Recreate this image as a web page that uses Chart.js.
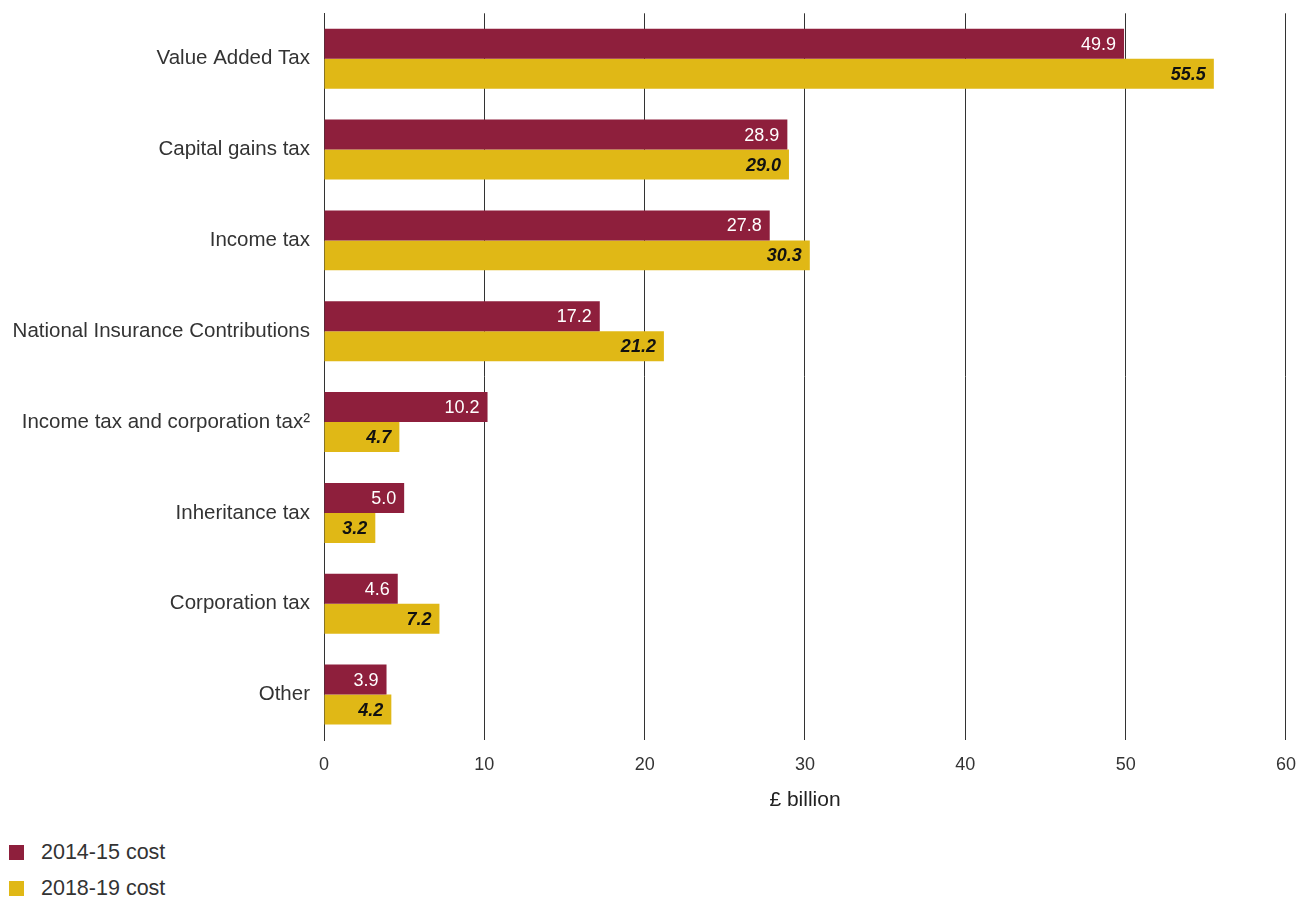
<!DOCTYPE html>
<html>
<head>
<meta charset="utf-8">
<script src="https://cdn.jsdelivr.net/npm/chart.js@4"></script>
<style>
  body { margin: 0; background: #fff; font-family: "Liberation Sans", Arial, sans-serif; color: #333; overflow: hidden; }
  #wrap { position: relative; width: 1310px; height: 822px; margin-top: -5px; }
  .legend { margin-top: 17px; }
  .legend div { display: flex; align-items: center; height: 36px; font-size: 21.5px; }
  .legend span.box { display: inline-block; width: 15px; height: 15px; margin: 0 17px 0 9px; }
</style>
</head>
<body>
<div id="wrap"><canvas id="taxChart"></canvas></div>
<div class="legend" id="legend"></div>
<script>
const categories = ['Value Added Tax', 'Capital gains tax', 'Income tax', 'National Insurance Contributions',
  'Income tax and corporation tax²', 'Inheritance tax', 'Corporation tax', 'Other'];
const cost2014 = [49.9, 28.9, 27.8, 17.2, 10.2, 5.0, 4.6, 3.9];
const cost2018 = [55.5, 29.0, 30.3, 21.2, 4.7, 3.2, 7.2, 4.2];
const seriesNames = ['2014-15 cost', '2018-19 cost'];
const colours = ['#8e1f3c', '#e0b816'];

// labels inside the end of each bar
const barLabels = {
  id: 'barLabels',
  afterDatasetsDraw(chart) {
    const ctx = chart.ctx;
    chart.data.datasets.forEach((ds, i) => {
      chart.getDatasetMeta(i).data.forEach((bar, j) => {
        ctx.save();
        ctx.textAlign = 'right';
        ctx.textBaseline = 'middle';
        if (i === 0) {
          ctx.fillStyle = '#fff';
          ctx.font = '18px "Liberation Sans", Arial, sans-serif';
        } else {
          ctx.fillStyle = '#111';
          ctx.font = 'italic bold 18px "Liberation Sans", Arial, sans-serif';
        }
        ctx.fillText(ds.data[j].toFixed(1), bar.x - 8, bar.y + 1);
        ctx.restore();
      });
    });
  }
};

new Chart(document.getElementById('taxChart'), {
  type: 'bar',
  data: {
    labels: categories,
    datasets: [
      { label: seriesNames[0], data: cost2014, backgroundColor: colours[0] },
      { label: seriesNames[1], data: cost2018, backgroundColor: colours[1] }
    ]
  },
  options: {
    indexAxis: 'y',
    responsive: true,
    maintainAspectRatio: false,
    animation: false,
    categoryPercentage: 0.66,
    barPercentage: 1,
    layout: { padding: { top: 0, right: 14, left: 0, bottom: 0 } },
    plugins: { legend: { display: false }, tooltip: { enabled: false } },
    scales: {
      x: {
        min: 0, max: 60,
        ticks: { stepSize: 10, color: '#333', font: { size: 18 }, padding: 14 },
        grid: { color: '#333', lineWidth: 1, drawTicks: false },
        border: { display: false },
        title: { display: true, text: '£ billion', color: '#222', font: { size: 21 }, padding: { top: 0, bottom: 4 } },
        afterFit(scale) { scale.height = 77; }
      },
      y: {
        ticks: { color: '#333', font: { size: 20.5 }, padding: 6 },
        grid: { display: false },
        border: { display: true, color: '#333' },
        afterFit(scale) { scale.width = 324; }
      }
    }
  },
  plugins: [barLabels]
});

const legend = document.getElementById('legend');
seriesNames.forEach((name, i) => {
  const row = document.createElement('div');
  row.innerHTML = '<span class="box" style="background:' + colours[i] + '"></span>' + name;
  legend.appendChild(row);
});
</script>
</body>
</html>
